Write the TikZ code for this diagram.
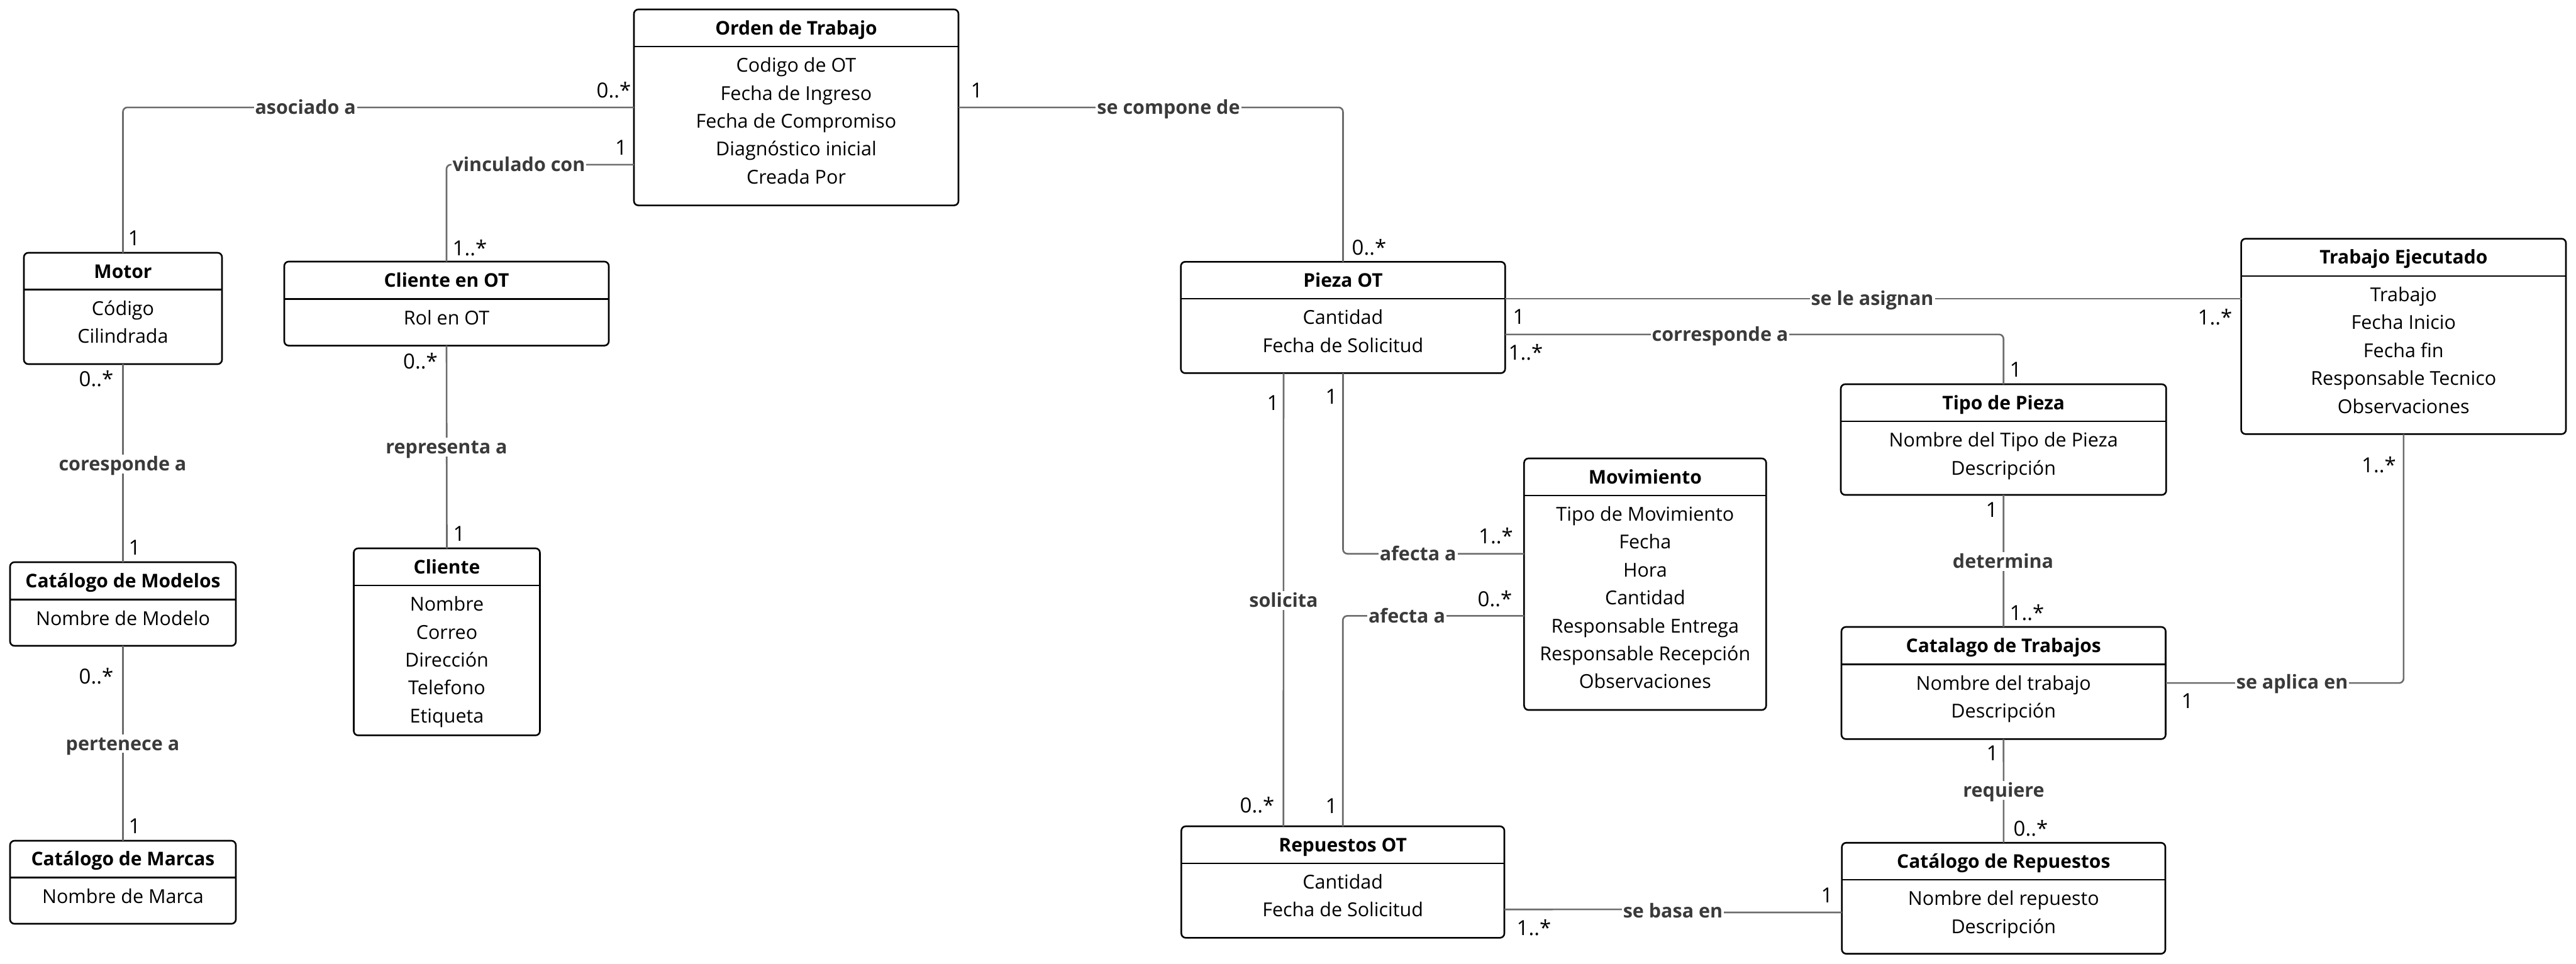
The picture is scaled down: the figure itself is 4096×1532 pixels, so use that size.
\documentclass[tikz,border=0pt]{standalone}
\usepackage{fontspec}
\setmainfont{Open Sans}
\usetikzlibrary{calc}
\definecolor{conncol}{RGB}{108,108,108}
\definecolor{labcol}{RGB}{58,58,58}
\tikzset{
 box/.style={draw=black, line width=2.6pt, rounded corners=7pt, inner sep=0pt, outer sep=0pt, fill=white},
 hline/.style={draw=black, line width=2.6pt},
 ttl/.style={font=\fontsize{30}{36}\selectfont\bfseries, inner sep=0pt, text height=21.5pt, text depth=0pt},
 attr/.style={font=\fontsize{30.5}{36}\selectfont, inner sep=0pt, text height=21.5pt, text depth=0pt},
 conn/.style={draw=conncol, line width=2.6pt, rounded corners=7pt},
 lab/.style={font=\fontsize{30.5}{36}\selectfont\bfseries, text=labcol, fill=white, inner xsep=2pt, inner ysep=4pt, text height=21.5pt, text depth=0pt},
 mult/.style={font=\fontsize{33}{40}\selectfont, inner sep=0pt, text height=24pt, text depth=0pt},
}
\newcommand{\umlbox}[8]{%
 \node[box, minimum width={(#4)-(#2)}, minimum height={(#5)-(#3)}] (#1) at ({((#2)+(#4))/2},{((#3)+(#5))/2}) {};
 \draw[hline] (#2,#6) -- (#4,#6);
 \node[ttl] (#1-t) at ({((#2)+(#4))/2},{((#3)+(#6))/2}) {#7};
 \foreach \t [count=\i] in {#8} {\node[attr] at ({((#2)+(#4))/2},{(#6)+30+(\i-1)*44.4}) {\t};}
}
\begin{document}
\begin{tikzpicture}[x=1pt,y=-1pt]
\fill[white] (0,0) rectangle (4096,1532);
\useasboundingbox (0,0) rectangle (4096,1532);

% classes
\umlbox{orden}{1008}{15}{1524}{326.6}{74}{Orden de Trabajo}{Codigo de OT,Fecha de Ingreso,Fecha de Compromiso,Diagnóstico inicial,Creada Por}
\umlbox{motor}{38}{402}{353}{579}{460.6}{Motor}{Código,Cilindrada}
\umlbox{clot}{452}{416}{968}{549.6}{475.7}{Cliente en OT}{Rol en OT}
\umlbox{modelos}{16}{894}{375}{1027}{953.7}{Catálogo de Modelos}{Nombre de Modelo}
\umlbox{marcas}{16}{1337}{375}{1469}{1395.3}{Catálogo de Marcas}{Nombre de Marca}
\umlbox{cliente}{562.5}{872}{858.5}{1169.4}{931}{Cliente}{Nombre,Correo,Dirección,Telefono,Etiqueta}
\umlbox{pieza}{1877.6}{416.3}{2393.3}{593.4}{475}{Pieza OT}{Cantidad,Fecha de Solicitud}
\umlbox{mov}{2423.4}{729}{2808.3}{1129}{787.8}{Movimiento}{Tipo de Movimiento,Fecha,Hora,Cantidad,Responsable Entrega,Responsable Recepción,Observaciones}
\umlbox{tipo}{2927}{611}{3444.4}{787}{670}{Tipo de Pieza}{Nombre del Tipo de Pieza,Descripción}
\umlbox{tejec}{3563.6}{379.6}{4080}{690.3}{438.8}{Trabajo Ejecutado}{Trabajo,Fecha Inicio,Fecha fin,Responsable Tecnico,Observaciones}
\umlbox{ctrab}{2928}{997}{3443.5}{1175.3}{1056.4}{Catalago de Trabajos}{Nombre del trabajo,Descripción}
\umlbox{rep}{1878.4}{1314}{2392}{1491.3}{1372.8}{Repuestos OT}{Cantidad,Fecha de Solicitud}
\umlbox{crep}{2928.6}{1340.2}{3443}{1516.7}{1399}{Catálogo de Repuestos}{Nombre del repuesto,Descripción}

% connectors
\draw[conn] (orden.west) -| (motor.north);
\draw[conn] ($(orden.west)+(0,91)$) -| (clot.north);
\draw[conn] (orden.east) -| (pieza.north);
\draw[conn] (motor.south) -- (modelos.north);
\draw[conn] (modelos.south) -- (marcas.north);
\draw[conn] (clot.south) -- (cliente.north);
\coordinate (pa) at ($(pieza.east)+(0,-30)$);
\draw[conn] (pa) -- (pa -| tejec.west);
\draw[conn] ($(pieza.east)+(0,27)$) -| (tipo.north);
\draw[conn] ($(pieza.south)+(-94.5,0)$) -- ($(rep.north)+(-94.5,0)$);
\draw[conn] (pieza.south) |- ($(mov.west)+(0,-48.4)$);
\draw[conn] ($(mov.west)+(0,50.4)$) -| (rep.north);
\draw[conn] (tipo.south) -- (ctrab.north);
\draw[conn] (ctrab.south) -- (crep.north);
\draw[conn] (ctrab.east) -| (tejec.south);
\coordinate (sb1) at (2660,1446);
\coordinate (sb2) at (2660,1451);
\draw[conn] ($(rep.east)+(0,43.6)$) -- (sb1) -- (sb2) -- ($(crep.west)+(0,22.5)$);

% association labels
\node[lab] (l1) at (485.7,170.8) {asociado a};
\node[lab] (l2) at (825,261.8) {vinculado con};
\node[lab] (l3) at (1858,170.8) {se compone de};
\node[lab] (l4) at (195,737.9) {coresponde a};
\node[lab] (l5) at (195,1182.5) {pertenece a};
\node[lab] (l6) at (710,711) {representa a};
\node[lab] (l7) at (2977,475) {se le asignan};
\node[lab] (l8) at (2735,532) {corresponde a};
\node[lab] (l9) at (2041,955) {solicita};
\node[lab] (l10) at (2254.7,880.6) {afecta a};
\node[lab] (l11) at (2237,979.4) {afecta a};
\node[lab] (l12) at (3185,893) {determina};
\node[lab] (l13) at (3186,1257) {requiere};
\node[lab] (l14) at (3644.6,1084.7) {se aplica en};
\node[lab] (l15) at (2660,1449) {se basa en};

% multiplicities
\node[mult] (m1) at (976,143) {0..*};
\node[mult] (m2) at (213,378.5) {1};
\node[mult] (m3) at (1553,143) {1};
\node[mult] (m4) at (987.5,234) {1};
\node[mult] (m5) at (747,394) {1..*};
\node[mult] (m6) at (668.5,574) {0..*};
\node[mult] (m7) at (153,602) {0..*};
\node[mult] (m8) at (214,870) {1};
\node[mult] (m9) at (153,1075) {0..*};
\node[mult] (m10) at (214,1313) {1};
\node[mult] (m11) at (730,848) {1};
\node[mult] (m12) at (2177,393.5) {0..*};
\node[mult] (m13) at (2415,503) {1};
\node[mult] (m14) at (2426,560) {1..*};
\node[mult] (m15) at (3522,504) {1..*};
\node[mult] (m16) at (3205,587) {1};
\node[mult] (m17) at (2024,640) {1};
\node[mult] (m18) at (2117,630) {1};
\node[mult] (m19) at (2378.5,852.5) {1..*};
\node[mult] (m20) at (2377,952) {0..*};
\node[mult] (m21) at (1999,1280) {0..*};
\node[mult] (m22) at (2117,1281) {1};
\node[mult] (m23) at (3167,810) {1};
\node[mult] (m24) at (3223,974) {1..*};
\node[mult] (m25) at (3782.5,739) {1..*};
\node[mult] (m26) at (3478,1114.5) {1};
\node[mult] (m27) at (3168,1197) {1};
\node[mult] (m28) at (3229,1317) {0..*};
\node[mult] (m29) at (2439,1475) {1..*};
\node[mult] (m30) at (2905,1423) {1};
\end{tikzpicture}
\end{document}
